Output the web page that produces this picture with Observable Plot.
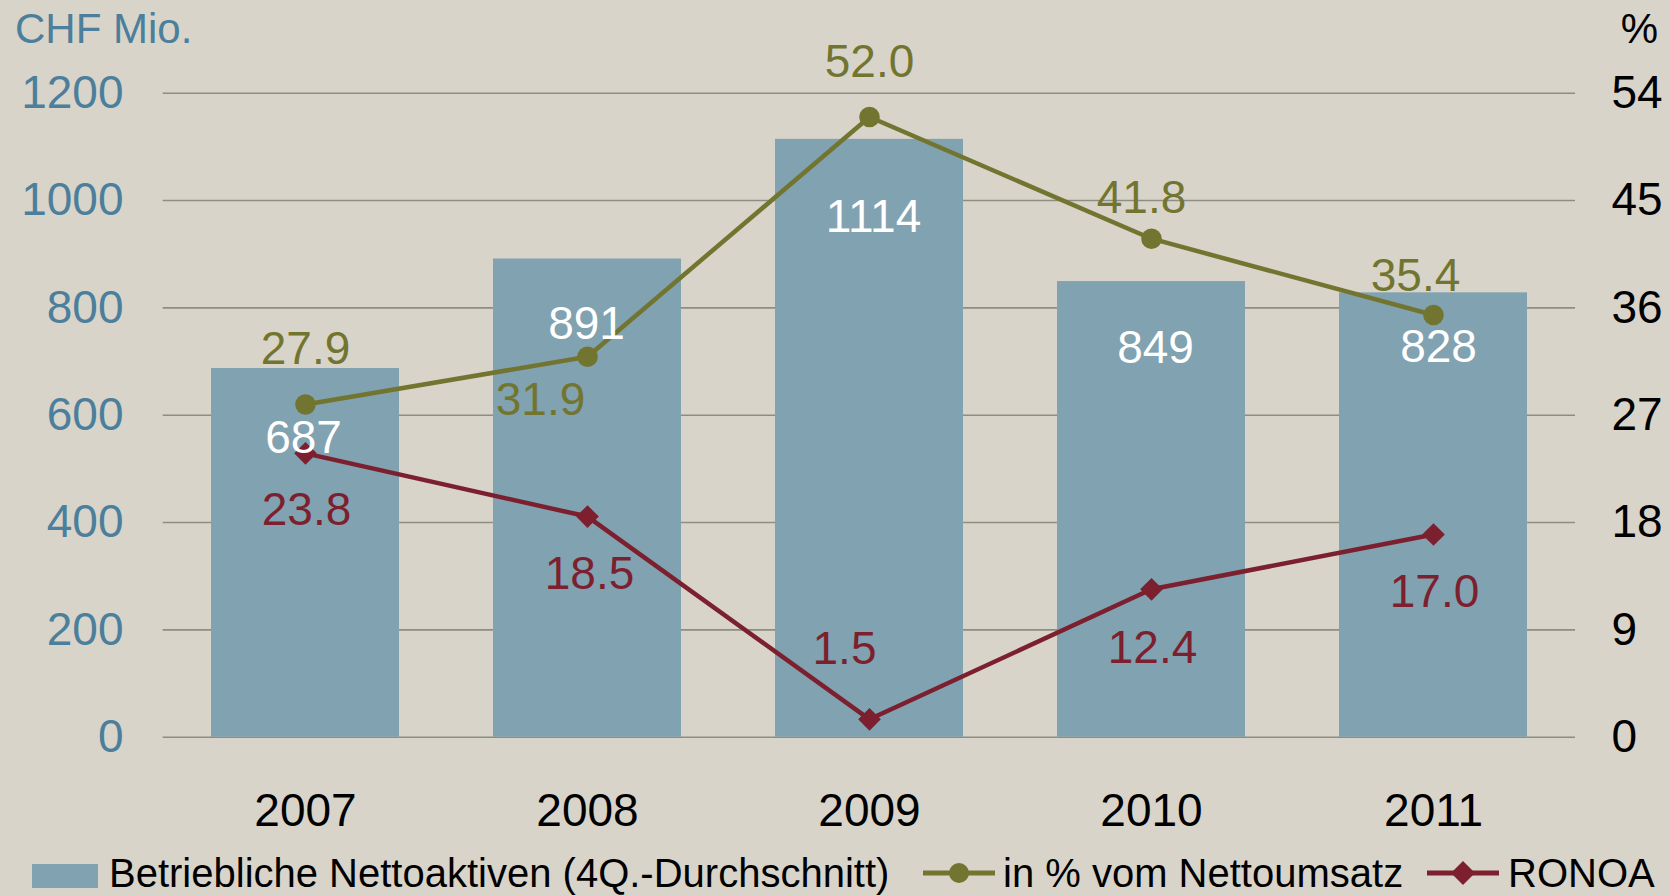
<!DOCTYPE html>
<html>
<head>
<meta charset="utf-8">
<script src="https://cdn.jsdelivr.net/npm/d3@7"></script>
<script src="https://cdn.jsdelivr.net/npm/@observablehq/plot@0.6"></script>
<style>
  html, body { margin: 0; padding: 0; background: #d8d4ca; }
  #chart { position: relative; width: 1670px; height: 895px; overflow: hidden;
           font-family: "Liberation Sans", Arial, sans-serif; background: #d8d4ca; }
  #chart svg.plot { position: absolute; left: 0; top: 0; }
  .abs { position: absolute; white-space: nowrap; }
</style>
</head>
<body>
<div id="chart"></div>
<script>
// ---------- data ----------
const years = ["2007", "2008", "2009", "2010", "2011"];
const nettoaktiven = [687, 891, 1114, 849, 828];          // CHF Mio. (left axis)
const umsatzPct = [27.9, 31.9, 52.0, 41.8, 35.4];         // % (right axis)
const ronoa = [23.8, 18.5, 1.5, 12.4, 17.0];              // % (right axis)
const leftTicks = [0, 200, 400, 600, 800, 1000, 1200];
const rightTicks = [0, 9, 18, 27, 36, 45, 54];
const leftUnit = "CHF Mio.";
const rightUnit = "%";
const seriesNames = ["Betriebliche Nettoaktiven (4Q.-Durchschnitt)", "in % vom Nettoumsatz", "RONOA"];

// ---------- styles / layout ----------
const barColor = "#81a2b0", olive = "#72752f", red = "#7c1f2e";
const gridColor = "#8e8e80", leftAxisColor = "#4b7f9b";
const font = "'Liberation Sans', Arial, sans-serif";
// label nudges (px) relative to anchor point, per year index
const barLabelNudge   = [[-2, 70], [-1, 65], [4, 78], [4, 67], [5, 54]];
const oliveLabelNudge = [[0, -55], [-47, 44], [0, -55], [-10, -40], [-18, -39]];
const redLabelNudge   = [[1, 57], [2, 58], [-25, -70], [1, 59], [1, 58]];

const W = 1670, H = 845;
const mL = 162.7, mR = 95, mT = 92.7, mB = H - 736.7;
const k = 1200 / 54; // right axis (0–54 %) mapped onto left scale (0–1200)

const rows = years.map((y, i) => ({ year: y, assets: nettoaktiven[i], pct: umsatzPct[i], ronoa: ronoa[i], i }));

const labelMarks = [];
rows.forEach((d, i) => {
  labelMarks.push(Plot.text([d], { x: "year", y: "assets", text: r => String(r.assets),
    fill: "white", fontSize: 46, dx: barLabelNudge[i][0], dy: barLabelNudge[i][1] }));
  labelMarks.push(Plot.text([d], { x: "year", y: r => r.pct * k, text: r => r.pct.toFixed(1),
    fill: olive, fontSize: 46, dx: oliveLabelNudge[i][0], dy: oliveLabelNudge[i][1] }));
  labelMarks.push(Plot.text([d], { x: "year", y: r => r.ronoa * k, text: r => r.ronoa.toFixed(1),
    fill: red, fontSize: 46, dx: redLabelNudge[i][0], dy: redLabelNudge[i][1] }));
});

const plot = Plot.plot({
  width: W, height: H,
  marginLeft: mL, marginRight: mR, marginTop: mT, marginBottom: mB,
  style: { background: "transparent", fontFamily: font, fontSize: "46px", overflow: "visible" },
  x: { domain: years, paddingInner: 0.3344, paddingOuter: 0.1672, label: null },
  y: { domain: [0, 1200], label: null },
  marks: [
    Plot.gridY(leftTicks, { stroke: gridColor, strokeOpacity: 1, strokeWidth: 1.6 }),
    Plot.barY(rows, { x: "year", y: "assets", fill: barColor }),
    Plot.axisY(leftTicks, { anchor: "left", tickSize: 0, tickPadding: 39.7, fontSize: 46,
      color: leftAxisColor, fill: leftAxisColor, label: null, tickFormat: v => String(v) }),
    Plot.axisY(rightTicks.map(t => t * k), { anchor: "right", tickSize: 0, tickPadding: 36, fontSize: 46,
      color: "#000", fill: "#000", label: null, tickFormat: v => String(Math.round(v / k)) }),
    Plot.axisX({ anchor: "bottom", tickSize: 0, tickPadding: 56, fontSize: 46,
      color: "#000", fill: "#000", label: null }),
    Plot.line(rows, { x: "year", y: d => d.pct * k, stroke: olive, strokeWidth: 4.5 }),
    Plot.dot(rows, { x: "year", y: d => d.pct * k, r: 10.3, fill: olive, stroke: "none" }),
    Plot.line(rows, { x: "year", y: d => d.ronoa * k, stroke: red, strokeWidth: 4.5 }),
    Plot.dot(rows, { x: "year", y: d => d.ronoa * k, symbol: "diamond2", r: 10.2, fill: red, stroke: "none" }),
    ...labelMarks
  ]
});

const chart = document.getElementById("chart");
chart.appendChild(plot);

// unit labels above axes
function addText(txt, css) {
  const el = document.createElement("div");
  el.className = "abs";
  el.textContent = txt;
  Object.assign(el.style, css);
  chart.appendChild(el);
  return el;
}
addText(leftUnit, { left: "15px", top: "7.7px", fontSize: "42px", lineHeight: "42px", color: leftAxisColor });
addText(rightUnit, { right: "12px", top: "7.7px", fontSize: "42px", lineHeight: "42px", color: "#000" });

// legend
const legTop = 853.4;
const sw = document.createElement("div");
sw.className = "abs";
Object.assign(sw.style, { left: "31.6px", top: "864px", width: "66px", height: "24px", background: barColor });
chart.appendChild(sw);
addText(seriesNames[0], { left: "109px", top: legTop + "px", fontSize: "40px", lineHeight: "40px", color: "#000" });

function lineKey(left, color, shape) {
  const ns = "http://www.w3.org/2000/svg";
  const s = document.createElementNS(ns, "svg");
  s.setAttribute("width", 72); s.setAttribute("height", 30);
  s.style.position = "absolute"; s.style.left = left + "px"; s.style.top = (873 - 15) + "px";
  const ln = document.createElementNS(ns, "line");
  ln.setAttribute("x1", 0); ln.setAttribute("x2", 72); ln.setAttribute("y1", 15); ln.setAttribute("y2", 15);
  ln.setAttribute("stroke", color); ln.setAttribute("stroke-width", 5);
  s.appendChild(ln);
  let m;
  if (shape === "circle") {
    m = document.createElementNS(ns, "circle");
    m.setAttribute("cx", 36); m.setAttribute("cy", 15); m.setAttribute("r", 10);
  } else {
    m = document.createElementNS(ns, "path");
    m.setAttribute("d", "M36,3L48,15L36,27L24,15Z");
  }
  m.setAttribute("fill", color);
  s.appendChild(m);
  chart.appendChild(s);
}
lineKey(923, olive, "circle");
addText(seriesNames[1], { left: "1003px", top: legTop + "px", fontSize: "40px", lineHeight: "40px", color: "#000" });
lineKey(1427, red, "diamond");
addText(seriesNames[2], { left: "1508px", top: legTop + "px", fontSize: "40px", lineHeight: "40px", color: "#000" });
</script>
</body>
</html>
